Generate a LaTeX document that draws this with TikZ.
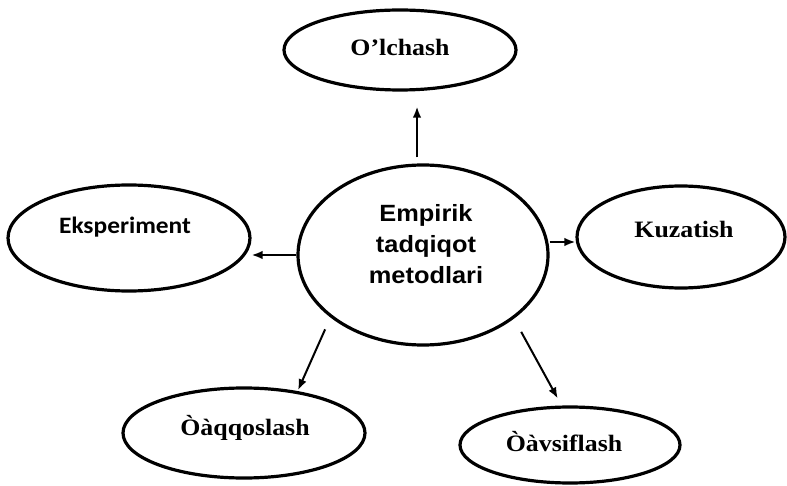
\documentclass[tikz,border=0pt]{standalone}
\usepackage{fontspec}
\usetikzlibrary{shapes.geometric,arrows.meta}
\newfontfamily\tmsb{Liberation Serif}[FakeStretch=1.1]
\newfontfamily\arb{Liberation Sans}[FakeStretch=1.08]
\newfontfamily\clb{Carlito}[FakeStretch=1.08]
\tikzset{
  ell/.style={draw=black, line width=3.2pt, ellipse, inner sep=0pt},
  lab/.style={inner sep=0pt, font=\tmsb\bfseries\fontsize{23.5}{27}\selectfont},
  arr/.style={line width=2pt, -{Latex[length=11pt,width=8.5pt]}}
}
\begin{document}
\begin{tikzpicture}[x=1pt,y=-1pt]
\useasboundingbox[fill=white] (0,0) rectangle (787,486);
% ellipses
\node[ell, minimum width=250pt, minimum height=180pt] (c) at (423,255) {};
\node[ell, minimum width=232pt, minimum height=80pt] (o) at (400,50) {};
\node[ell, minimum width=242pt, minimum height=106pt] (e) at (129,238) {};
\node[ell, minimum width=208pt, minimum height=102pt] (k) at (681,237) {};
\node[ell, minimum width=242pt, minimum height=90pt] (q) at (244,433) {};
\node[ell, minimum width=220pt, minimum height=76pt] (v) at (570,445) {};
% texts
\node[inner sep=0pt, align=center, font=\arb\bfseries\fontsize{23.5}{31}\selectfont] (ct) at (426,244) {Empirik\\tadqiqot\\metodlari};
\node[lab] (ot) at (400,47) {O’lchash};
\node[inner sep=0pt, font=\clb\bfseries\fontsize{23.5}{27}\selectfont] (et) at (125,227) {Eksperiment};
\node[lab] (kt) at (684,229) {Kuzatish};
\node[lab] (qt) at (245,428) {Òàqqoslash};
\node[lab] (vt) at (564,442) {Òàvsiflash};
% connectors
\draw[arr, shorten <=6pt, shorten >=15pt] ([xshift=-6pt]c.north) -- ([xshift=-6pt]c.north |- o.south);
\draw[arr] (c.west |- 0,255) -- (e.east |- 0,255);
\draw[arr] (c.east |- 0,242) -- (k.west |- 0,242);
\draw[arr, shorten <=13pt, shorten >=1pt] (c.214) -- (q.38);
\draw[arr, shorten <=15pt, shorten >=8pt] (c.325) -- (v.102);
\end{tikzpicture}
\end{document}
